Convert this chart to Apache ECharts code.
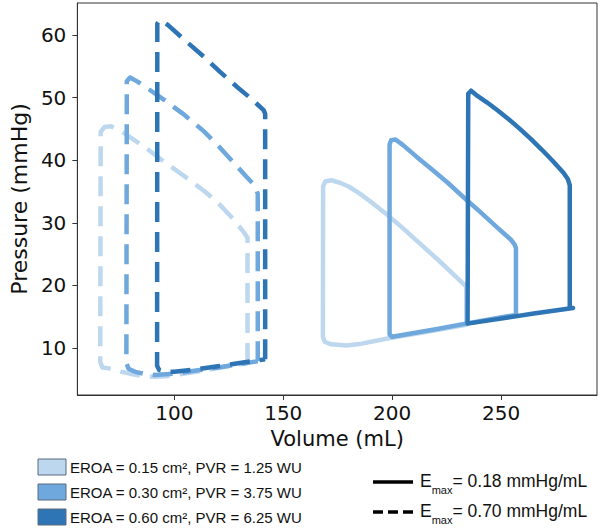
<!DOCTYPE html>
<html>
<head>
<meta charset="utf-8">
<script src="https://cdn.jsdelivr.net/npm/echarts@6/dist/echarts.min.js"></script>
<style>html,body{margin:0;padding:0;background:#fff;}#c{width:600px;height:531px;}</style>
</head>
<body>
<div id="c"></div>
<script>
// Tick labels
const xTicks = [100, 150, 200, 250];
const yTicks = [10, 20, 30, 40, 50, 60];

// Legend labels
const groupLabels = ['EROA = 0.15 cm\u00b2, PVR = 1.25 WU', 'EROA = 0.30 cm\u00b2, PVR = 3.75 WU', 'EROA = 0.60 cm\u00b2, PVR = 6.25 WU'];
const emaxLabels = ['= 0.18 mmHg/mL', '= 0.70 mmHg/mL'];
const colors = ['#bdd7ee', '#6fa8dc', '#2e75b6'];

// Pressure-volume loops, [volume mL, pressure mmHg]
// Emax = 0.70 mmHg/mL (dashed)
const dashedLow = [[133.6,7.6],[133.6,27.6],[131.5,28.7],[126,31.0],[120,33.2],[114,35.0],[104,37.6],[94,40.1],[86,42.2],[80,43.6],[75,44.8],[71,45.4],[68,45.3],[66.2,44.5],[66.0,7.8],[67,6.9],[71,6.7],[76,6.2],[81,5.8],[86,5.5],[91,5.4],[96,5.5],[100,5.7],[110,6.2],[120,6.8],[133.6,7.6]];
const dashedMid = [[138.3,7.9],[138.3,34.6],[137.3,35.8],[133,37.4],[128.8,39.0],[121,42.0],[113.6,44.6],[104,47.4],[95.5,49.6],[88,51.4],[83.3,52.5],[79.7,53.2],[78.2,52.6],[78.0,7.6],[79,6.7],[82,6.2],[86,5.9],[91,5.7],[100,5.9],[110,6.4],[120,6.9],[138.3,7.9]];
const dashedHigh = [[141.7,8.2],[141.7,47.4],[141,48.0],[135,49.9],[128.8,51.7],[121,54.1],[113.6,56.5],[105,59.1],[97,61.6],[93.6,62.4],[92.2,61.8],[92.1,7.2],[93,6.5],[96,6.2],[100,6.2],[110,6.6],[120,7.1],[130,7.6],[141.7,8.2]];
// Emax = 0.18 mmHg/mL (solid)
const solidLow = [[234,13.7],[234,19.8],[228,21.8],[221,24.1],[213,26.6],[205,29.1],[197,31.5],[190,33.4],[185,34.7],[180,35.8],[176,36.4],[172,36.8],[169.3,36.6],[168.3,35.8],[168.2,11.8],[169,11.0],[172,10.6],[179,10.4],[186,10.7],[199,11.6],[216,12.6],[234,13.7]];
const solidMid = [[256.8,15.3],[256.8,26.0],[256.2,26.5],[254.5,27.3],[248,29.3],[240.5,31.7],[233,34.0],[225.5,36.4],[218,38.6],[211,40.6],[205,42.4],[201.5,43.3],[199.5,43.2],[198.8,42.5],[198.8,12.2],[200,11.8],[220,13.0],[240,14.3],[256.8,15.3]];
const solidHigh = [[281.5,16.3],[281.5,36.0],[280.6,37.0],[278.6,38.0],[273.6,39.9],[268.6,41.7],[263.6,43.4],[258.6,45.0],[253.6,46.5],[248.6,47.9],[243.6,49.2],[238.6,50.4],[236.2,51.1],[234.9,50.6],[234.6,13.9],[250,14.7],[265,15.5],[283,16.4]];

const dashedLoops = [dashedLow, dashedMid, dashedHigh];
const solidLoops = [solidLow, solidMid, solidHigh];

const series = [];
dashedLoops.forEach((d, i) => series.push({
  type: 'line', data: d, showSymbol: false, silent: true, z: 2 + i,
  lineStyle: { color: colors[i], width: 4.5, type: [20, 10], cap: 'butt', join: 'round' }
}));
solidLoops.forEach((d, i) => series.push({
  type: 'line', data: d, showSymbol: false, silent: true, z: 2 + i,
  lineStyle: { color: colors[i], width: 4.5, type: 'solid', cap: 'round', join: 'round' }
}));

const tickFont = 'DejaVu Sans';
const legFont = 'Liberation Sans';
const graphics = [];
groupLabels.forEach((t, i) => {
  const yc = 467 + i * 25;
  graphics.push({ type: 'rect', shape: { x: 38, y: yc - 8, width: 28, height: 16 },
    style: { fill: colors[i], stroke: '#5a6b7c', lineWidth: 1 } });
  graphics.push({ type: 'text', x: 70, y: yc,
    style: { text: t, fontFamily: legFont, fontSize: 15, fill: '#111', verticalAlign: 'middle', align: 'left' } });
});
emaxLabels.forEach((t, i) => {
  const yc = 482 + i * 30;
  graphics.push({ type: 'line', shape: { x1: 373, y1: yc, x2: 413, y2: yc },
    style: { stroke: '#000', lineWidth: 3.5, lineDash: i ? [10, 5] : null } });
  graphics.push({ type: 'text', x: 420, y: yc - 1,
    style: { text: '{e|E}{s|max}{t|' + t + '}', fontFamily: legFont, fill: '#111', verticalAlign: 'middle', align: 'left',
      rich: {
        e: { fontSize: 17.5, fontFamily: legFont, lineHeight: 22, verticalAlign: 'middle' },
        s: { fontSize: 11, fontFamily: legFont, lineHeight: 22, verticalAlign: 'bottom', padding: [0, 0, -3, 0] },
        t: { fontSize: 17.5, fontFamily: legFont, lineHeight: 22, verticalAlign: 'middle' }
      } } });
});

const chart = echarts.init(document.getElementById('c'), null, { renderer: 'svg' });
chart.setOption({
  animation: false,
  backgroundColor: '#fff',
  grid: { left: 72, right: 3, top: 3, bottom: 136, show: true, borderColor: '#333', borderWidth: 1, containLabel: false },
  xAxis: {
    type: 'value', min: 55.5, max: 294,
    name: 'Volume (mL)', nameLocation: 'middle', nameGap: 33,
    nameTextStyle: { fontFamily: tickFont, fontSize: 21, color: '#111' },
    axisLine: { show: true, lineStyle: { color: '#333', width: 1 } },
    axisTick: { show: true, inside: false, length: 5, lineStyle: { color: '#333' }, customValues: xTicks },
    axisLabel: { fontFamily: tickFont, fontSize: 20, color: '#111', margin: 8, customValues: xTicks },
    splitLine: { show: false }
  },
  yAxis: {
    type: 'value', min: 2.5, max: 65.1,
    name: 'Pressure (mmHg)', nameLocation: 'middle', nameGap: 43, nameRotate: 90,
    nameTextStyle: { fontFamily: tickFont, fontSize: 22, color: '#111' },
    axisLine: { show: true, lineStyle: { color: '#333', width: 1 } },
    axisTick: { show: true, inside: false, length: 5, lineStyle: { color: '#333' }, customValues: yTicks },
    axisLabel: { fontFamily: tickFont, fontSize: 20, color: '#111', margin: 11, customValues: yTicks },
    splitLine: { show: false }
  },
  series: series,
  graphic: graphics
});
</script>
</body>
</html>
